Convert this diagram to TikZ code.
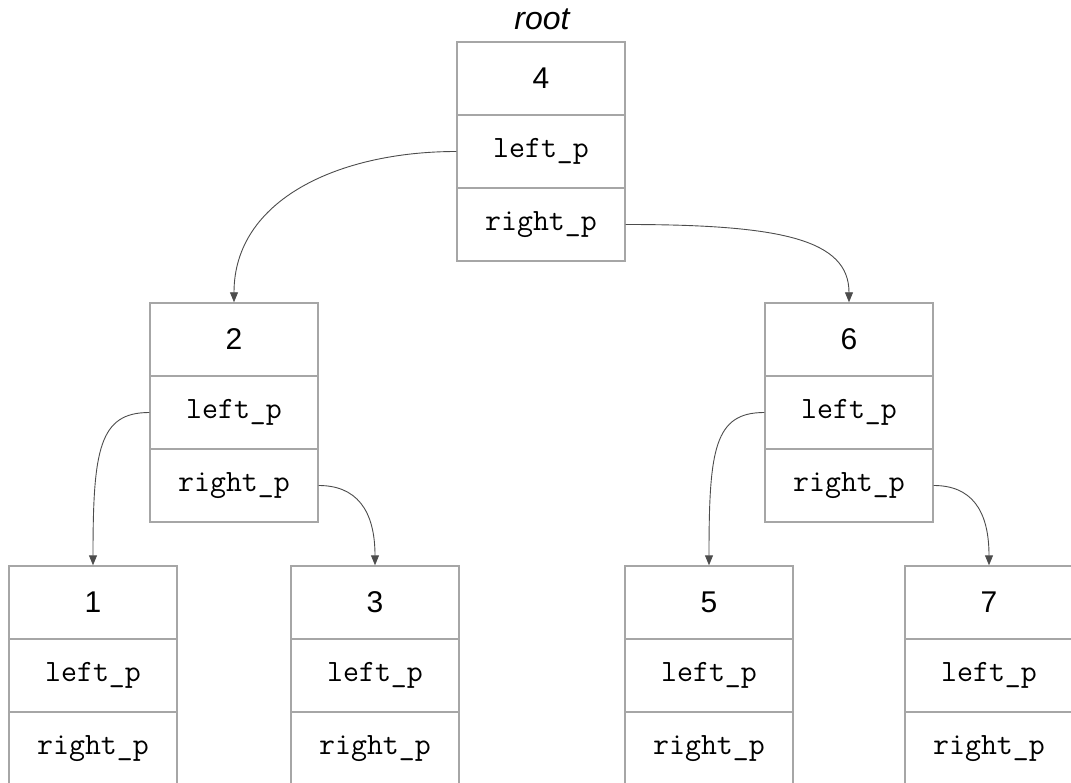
\documentclass[tikz,border=0pt]{standalone}
\usepackage{fontspec}
\usetikzlibrary{arrows.meta}
\newfontfamily\numfont{Liberation Sans}
\begin{document}
\begin{tikzpicture}[x=1pt,y=-1pt,
  cell/.style={draw=black!35,line width=1.4pt,minimum width=168pt,minimum height=73pt,inner sep=0pt,anchor=center},
  numcell/.style={cell,font=\numfont\fontsize{30}{30}\selectfont},
  ptrcell/.style={cell,font=\ttfamily\fontsize{31}{31}\selectfont},
  ptr/.style={draw=black!70,line width=0.9pt,-{Triangle[width=8pt,length=10pt]}}]
\useasboundingbox (0,0) rectangle (1071,783);
\clip (0,0) rectangle (1071,783);
\newcommand{\tnode}[4]{%
  \node[numcell] (#1v) at (#2,#3+36.5) {#4};
  \node[ptrcell] (#1l) at (#2,#3+109.5) {left\_p};
  \node[ptrcell] (#1r) at (#2,#3+182.5) {right\_p};}
\tnode{n4}{541}{42}{4}
\tnode{n2}{234}{303}{2}
\tnode{n6}{849}{303}{6}
\tnode{n1}{93}{566}{1}
\tnode{n3}{375}{566}{3}
\tnode{n5}{709}{566}{5}
\tnode{n7}{989}{566}{7}
\node[font=\numfont\itshape\fontsize{32}{32}\selectfont,anchor=base] (root) at (542,30) {root};
\draw[ptr] (n4l.west) .. controls +(-117,0) and +(0,-103) .. (n2v.north);
\draw[ptr] (n4r.east) .. controls +(155,0) and +(0,-63) .. (n6v.north);
\draw[ptr] (n2l.west) .. controls +(-50,0) and +(0,-116) .. (n1v.north);
\draw[ptr] (n2r.east) .. controls +(37,0) and +(0,-56) .. (n3v.north);
\draw[ptr] (n6l.west) .. controls +(-50,0) and +(0,-116) .. (n5v.north);
\draw[ptr] (n6r.east) .. controls +(37,0) and +(0,-56) .. (n7v.north);
\end{tikzpicture}
\end{document}
